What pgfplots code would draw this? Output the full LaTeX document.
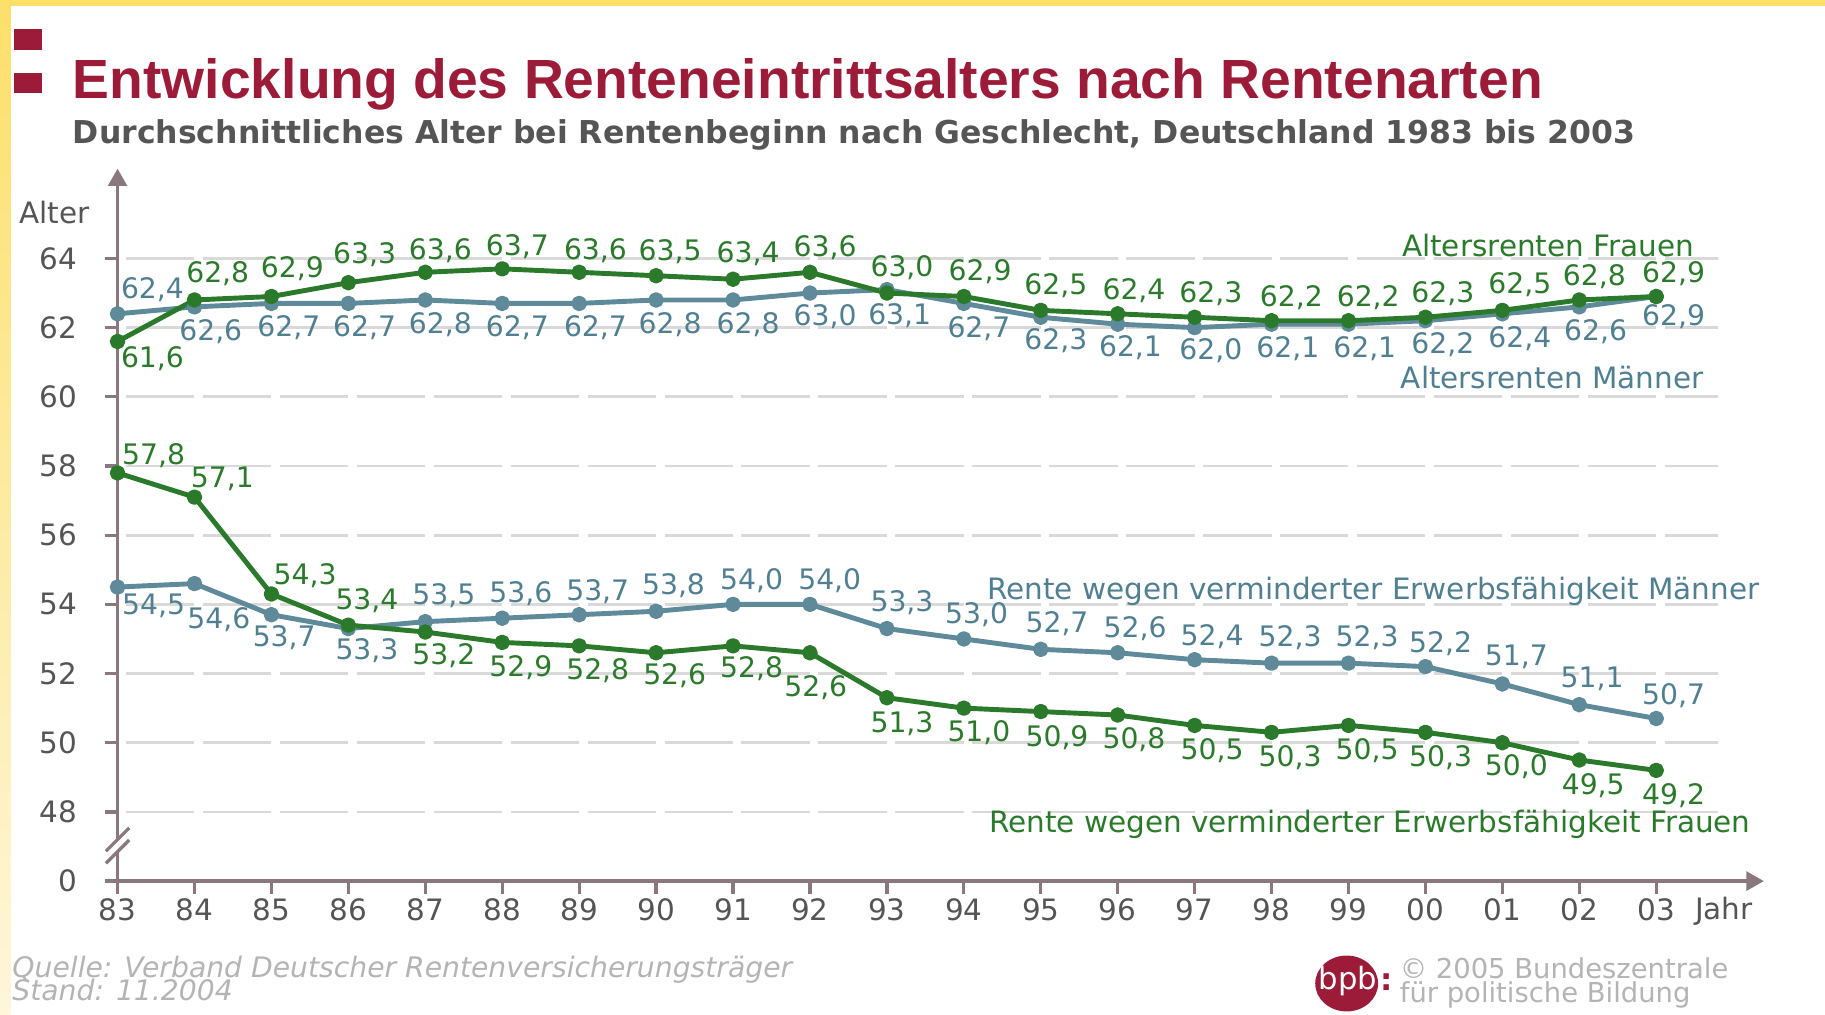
\documentclass[border=0pt]{standalone}
\usepackage{pgfplots}
\pgfplotsset{compat=1.18}
\usepackage{fontspec}
\setmainfont{DejaVu Sans}
\newfontfamily\titlefont{Liberation Sans}
\usetikzlibrary{arrows.meta}
\definecolor{grn}{HTML}{2B7A2B}
\definecolor{blu}{HTML}{5E8A99}
\definecolor{bluetxt}{HTML}{4F7F90}
\definecolor{axcol}{HTML}{8A787E}
\definecolor{gridcol}{HTML}{D9D9D9}
\definecolor{crimson}{HTML}{9B1B38}
\definecolor{txtgrey}{HTML}{555555}
\definecolor{lightgrey}{HTML}{B4B4B4}
\definecolor{yel}{HTML}{FCE06A}
\definecolor{paleyel}{HTML}{FEF6DA}
\newcommand\cf{\fontsize{6.9}{8}\selectfont}
\newcommand\lf{\fontsize{7.2}{8}\selectfont}
\pgfplotsset{
  lab/.style={
    visualization depends on={\thisrow{dx}\as\dx},
    visualization depends on={\thisrow{dy}\as\dy},
    point meta=y,
    nodes near coords={\pgfmathprintnumber[fixed,fixed zerofill,precision=1,use comma,assume math mode=true]{\pgfplotspointmeta}},
    every node near coord/.append style={font=\cf, text=#1, anchor=center, inner sep=0pt, xshift=\dx*0.01cm, yshift=\dy*0.01cm},
  }
}
\begin{document}
\begin{tikzpicture}
\fill[yel] (0,8.67) rectangle (15.68,8.72);
\shade[top color=yel, bottom color=paleyel] (0,0) rectangle (0.09,8.72);
\fill[crimson] (0.12,8.29) rectangle (0.36,8.47);
\fill[crimson] (0.12,7.92) rectangle (0.36,8.09);
\node[anchor=base west, inner sep=0pt, text=crimson, font=\titlefont\bfseries\fontsize{13.5}{15}\selectfont] at (0.62,7.87) {Entwicklung des Renteneintrittsalters nach Rentenarten};
\node[anchor=base west, inner sep=0pt, text=txtgrey, font=\bfseries\fontsize{7.7}{9}\selectfont] at (0.62,7.49) {Durchschnittliches Alter bei Rentenbeginn nach Geschlecht, Deutschland 1983 bis 2003};

\begin{axis}[
  at={(1.01cm,1.15cm)}, anchor=south west,
  scale only axis, width=14.145cm, height=6.122cm,
  xmin=0, xmax=21.4, ymin=46, ymax=66.6,
  axis lines=left,
  axis line style={draw=axcol, line width=0.9pt, -{Triangle[length=0.15cm,width=0.16cm]}},
  xtick={0,...,20},
  xticklabels={83,84,85,86,87,88,89,90,91,92,93,94,95,96,97,98,99,00,01,02,03},
  ytick={46,48,...,64},
  yticklabels={0,48,50,52,54,56,58,60,62,64},
  tick align=outside,
  major tick length=0.11cm,
  tick style={draw=axcol, line width=0.8pt},
  ticklabel style={font=\lf, text=txtgrey},
  xticklabel style={anchor=center, inner sep=0pt, yshift=-0.14cm},
  yticklabel style={anchor=east, inner sep=0pt, xshift=-0.23cm},
  clip=false,
]
\pgfplotsinvokeforeach{48,50,...,64}{
  \draw[gridcol, line width=0.65pt, dash pattern=on 0.588cm off 0.073cm] (axis cs:0.11,#1) -- (axis cs:20.8,#1);
}
% axis break
\fill[white] ([shift={(-0.1cm,-0.1cm)}]axis cs:0,46.85) -- ([shift={(0.1cm,0.1cm)}]axis cs:0,46.85) -- ([shift={(0.1cm,0.1cm)}]axis cs:0,47.2) -- ([shift={(-0.1cm,-0.1cm)}]axis cs:0,47.2) -- cycle;
\draw[axcol, line width=0.8pt] ([shift={(-0.1cm,-0.1cm)}]axis cs:0,46.85) -- ([shift={(0.1cm,0.1cm)}]axis cs:0,46.85);
\draw[axcol, line width=0.8pt] ([shift={(-0.1cm,-0.1cm)}]axis cs:0,47.2) -- ([shift={(0.1cm,0.1cm)}]axis cs:0,47.2);

% Altersrenten Maenner
\addplot[blu, line width=1.2pt, line join=round, mark=*, mark size=1.3pt, lab=bluetxt] table {
x y dx dy
0 62.4 30 21
1 62.6 14 -21
2 62.7 15 -21
3 62.7 14 -21
4 62.8 13 -21
5 62.7 13 -21
6 62.7 14 -21
7 62.8 12 -21
8 62.8 13 -21
9 63.0 13 -20
10 63.1 11 -22
11 62.7 13 -22
12 62.3 13 -20
13 62.1 11 -20
14 62.0 14 -20
15 62.1 14 -21
16 62.1 14 -21
17 62.2 15 -21
18 62.4 15 -21
19 62.6 14 -21
20 62.9 15 -17
};
% Altersrenten Frauen
\addplot[grn, line width=1.2pt, line join=round, mark=*, mark size=1.3pt, lab=grn] table {
x y dx dy
0 61.6 30 -15
1 62.8 20 23
2 62.9 18 24
3 63.3 14 24
4 63.6 13 19
5 63.7 13 19
6 63.6 14 19
7 63.5 12 21
8 63.4 13 22
9 63.6 13 21
10 63.0 13 22
11 62.9 14 21
12 62.5 13 21
13 62.4 14 20
14 62.3 14 20
15 62.2 17 20
16 62.2 17 20
17 62.3 15 20
18 62.5 15 22
19 62.8 13 20
20 62.9 15 20
};
% EU Maenner
\addplot[blu, line width=1.2pt, line join=round, mark=*, mark size=1.3pt, lab=bluetxt] table {
x y dx dy
0 54.5 31 -16
1 54.6 21 -31
2 53.7 11 -20
3 53.3 16 -19
4 53.5 16 22
5 53.6 16 21
6 53.7 16 20
7 53.8 15 22
8 54.0 16 20
9 54.0 17 20
10 53.3 13 22
11 53.0 11 21
12 52.7 14 22
13 52.6 15 21
14 52.4 15 20
15 52.3 16 22
16 52.3 16 22
17 52.2 13 20
18 51.7 12 23
19 51.1 11 22
20 50.7 15 20
};
% EU Frauen
\addplot[grn, line width=1.2pt, line join=round, mark=*, mark size=1.3pt, lab=grn] table {
x y dx dy
0 57.8 31 15
1 57.1 24 16
2 54.3 29 16
3 53.4 16 21
4 53.2 16 -20
5 52.9 16 -22
6 52.8 16 -21
7 52.6 16 -20
8 52.8 16 -20
9 52.6 5 -30
10 51.3 13 -22
11 51.0 13 -21
12 50.9 14 -22
13 50.8 14 -21
14 50.5 15 -22
15 50.3 16 -22
16 50.5 16 -22
17 50.3 13 -22
18 50.0 12 -21
19 49.5 12 -22
20 49.2 15 -22
};
\end{axis}

\node[font=\lf, text=txtgrey, inner sep=0pt] at (0.47,6.89) {Alter};
\node[font=\lf, text=txtgrey, inner sep=0pt] at (14.81,0.89) {Jahr};
\node[font=\lf, text=grn, inner sep=0pt] at (13.30,6.61) {Altersrenten Frauen};
\node[font=\lf, text=bluetxt, inner sep=0pt] at (13.335,5.48) {Altersrenten Männer};
\node[font=\lf, text=bluetxt, inner sep=0pt] at (11.80,3.635) {Rente wegen verminderter Erwerbsfähigkeit Männer};
\node[font=\lf, text=grn, inner sep=0pt] at (11.77,1.64) {Rente wegen verminderter Erwerbsfähigkeit Frauen};

\node[anchor=base west, inner sep=0pt, font=\itshape\cf, text=lightgrey] at (0.10,0.32) {Quelle: Verband Deutscher Rentenversicherungsträger};
\node[anchor=base west, inner sep=0pt, font=\itshape\cf, text=lightgrey] at (0.10,0.12) {Stand: 11.2004};

\fill[crimson] (11.57,0.27) ellipse (0.27 and 0.24);
\node[inner sep=0pt, text=white, font=\fontsize{7.5}{8}\selectfont] at (11.58,0.29) {bpb};
\node[inner sep=0pt, text=crimson, font=\bfseries\fontsize{7.5}{8}\selectfont] at (11.91,0.28) {:};
\node[anchor=base west, inner sep=0pt, font=\fontsize{6.7}{8}\selectfont, text=lightgrey] at (12.02,0.31) {© 2005 Bundeszentrale};
\node[anchor=base west, inner sep=0pt, font=\fontsize{6.7}{8}\selectfont, text=lightgrey] at (12.02,0.11) {für politische Bildung};
\pgfresetboundingbox
\useasboundingbox (0,0) rectangle (15.68,8.72);
\end{tikzpicture}
\end{document}
